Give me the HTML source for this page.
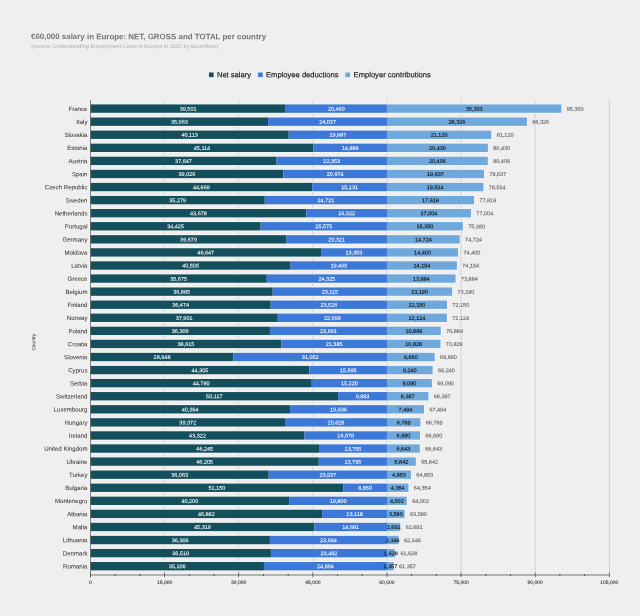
<!DOCTYPE html>
<html><head><meta charset="utf-8"><title>€60,000 salary in Europe</title>
<style>
html,body{margin:0;padding:0;background:#efefef;}
svg{display:block;font-family:"Liberation Sans",Arial,sans-serif;}
.cat{font-size:6.1px;fill:#3a3a3a;text-anchor:end;stroke:#3a3a3a;stroke-width:0.04px;}
.w{font-size:5.5px;fill:#ffffff;text-anchor:middle;stroke:#ffffff;stroke-width:0.07px;}
.k{font-size:5.5px;fill:#111111;text-anchor:middle;stroke:#111111;stroke-width:0.12px;}
.t{font-size:5.5px;fill:#666666;text-anchor:start;stroke:#666666;stroke-width:0.12px;}
.ax{font-size:5.0px;fill:#333333;text-anchor:middle;stroke:#333333;stroke-width:0.1px;}
.lg{font-size:7.6px;fill:#1c1c1c;stroke:#1c1c1c;stroke-width:0.18px;}
</style></head><body>
<svg width="640" height="616" viewBox="0 0 640 616">
<rect x="0" y="0" width="640" height="616" fill="#efefef"/>
<text transform="translate(31.0,39.1) rotate(0.03)" font-size="7.93" font-weight="bold" fill="#757575">€60,000 salary in Europe: NET, GROSS and TOTAL per country</text>
<text transform="translate(31.2,48.0) rotate(0.03)" font-size="5.56" fill="#b0b0b0">(source: Understanding Employment Costs in Europe in 2025 by Boundless)</text>
<rect x="209" y="72.5" width="4.6" height="4.6" fill="#134f5c"/>
<text class="lg" transform="translate(216.9,77.3) rotate(0.03)">Net salary</text>
<rect x="258.1" y="72.5" width="4.6" height="4.6" fill="#3c78d8"/>
<text class="lg" transform="translate(266,77.3) rotate(0.03)">Employee deductions</text>
<rect x="345.4" y="72.5" width="4.6" height="4.6" fill="#6fa8dc"/>
<text class="lg" transform="translate(353.6,77.3) rotate(0.03)">Employer contributions</text>
<text transform="translate(35.2,342.2) rotate(-90.05)" font-size="4.8" fill="#222222" text-anchor="middle">Country</text>

<rect x="164.21" y="100.0" width="0.8" height="475.0" fill="#cccccc"/>
<rect x="238.33" y="100.0" width="0.8" height="475.0" fill="#cccccc"/>
<rect x="312.44" y="100.0" width="0.8" height="475.0" fill="#cccccc"/>
<rect x="386.56" y="100.0" width="0.8" height="475.0" fill="#cccccc"/>
<rect x="460.67" y="100.0" width="0.8" height="475.0" fill="#cccccc"/>
<rect x="534.79" y="100.0" width="0.8" height="475.0" fill="#cccccc"/>
<rect x="608.90" y="100.0" width="0.8" height="475.0" fill="#cccccc"/>
<rect x="90.50" y="103.62" width="471.69" height="9.95" fill="#f6f5f3"/>
<rect x="90.50" y="104.42" width="195.17" height="8.35" fill="#134f5c"/>
<rect x="285.67" y="104.42" width="101.28" height="8.35" fill="#3c78d8"/>
<rect x="386.96" y="104.42" width="174.43" height="8.35" fill="#6fa8dc"/>
<text class="cat" transform="translate(87.50,110.90) rotate(0.05)">France</text>
<text class="w" transform="translate(188.09,110.70) rotate(0.05)">39,501</text>
<text class="w" transform="translate(336.31,110.70) rotate(0.05)">20,499</text>
<text class="k" transform="translate(474.17,110.70) rotate(0.05)">35,303</text>
<rect x="565.99" y="105.70" width="18" height="5.9" fill="#efefef"/>
<text class="t" transform="translate(566.79,110.70) rotate(0.05)">95,303</text>
<rect x="90.50" y="116.70" width="437.21" height="9.95" fill="#f6f5f3"/>
<rect x="90.50" y="117.50" width="177.69" height="8.35" fill="#134f5c"/>
<rect x="268.19" y="117.50" width="118.77" height="8.35" fill="#3c78d8"/>
<rect x="386.96" y="117.50" width="139.96" height="8.35" fill="#6fa8dc"/>
<text class="cat" transform="translate(87.50,123.97) rotate(0.05)">Italy</text>
<text class="w" transform="translate(179.35,123.77) rotate(0.05)">35,963</text>
<text class="w" transform="translate(327.57,123.77) rotate(0.05)">24,037</text>
<text class="k" transform="translate(456.94,123.77) rotate(0.05)">28,326</text>
<rect x="531.51" y="118.77" width="18" height="5.9" fill="#efefef"/>
<text class="t" transform="translate(532.31,123.77) rotate(0.05)">88,326</text>
<rect x="90.50" y="129.77" width="401.61" height="9.95" fill="#f6f5f3"/>
<rect x="90.50" y="130.57" width="198.20" height="8.35" fill="#134f5c"/>
<rect x="288.70" y="130.57" width="98.26" height="8.35" fill="#3c78d8"/>
<rect x="386.96" y="130.57" width="104.35" height="8.35" fill="#6fa8dc"/>
<text class="cat" transform="translate(87.50,137.05) rotate(0.05)">Slovakia</text>
<text class="w" transform="translate(189.60,136.85) rotate(0.05)">40,113</text>
<text class="w" transform="translate(337.83,136.85) rotate(0.05)">19,887</text>
<text class="k" transform="translate(439.13,136.85) rotate(0.05)">21,120</text>
<rect x="495.91" y="131.85" width="18" height="5.9" fill="#efefef"/>
<text class="t" transform="translate(496.71,136.85) rotate(0.05)">81,120</text>
<rect x="90.50" y="142.85" width="398.20" height="9.95" fill="#f6f5f3"/>
<rect x="90.50" y="143.65" width="222.91" height="8.35" fill="#134f5c"/>
<rect x="313.41" y="143.65" width="73.55" height="8.35" fill="#3c78d8"/>
<rect x="386.96" y="143.65" width="100.94" height="8.35" fill="#6fa8dc"/>
<text class="cat" transform="translate(87.50,150.12) rotate(0.05)">Estonia</text>
<text class="w" transform="translate(201.95,149.92) rotate(0.05)">45,114</text>
<text class="w" transform="translate(350.18,149.92) rotate(0.05)">14,886</text>
<text class="k" transform="translate(437.43,149.92) rotate(0.05)">20,430</text>
<rect x="492.50" y="144.92" width="18" height="5.9" fill="#efefef"/>
<text class="t" transform="translate(493.30,149.92) rotate(0.05)">80,430</text>
<rect x="90.50" y="155.92" width="398.08" height="9.95" fill="#f6f5f3"/>
<rect x="90.50" y="156.72" width="186.01" height="8.35" fill="#134f5c"/>
<rect x="276.51" y="156.72" width="110.45" height="8.35" fill="#3c78d8"/>
<rect x="386.96" y="156.72" width="100.83" height="8.35" fill="#6fa8dc"/>
<text class="cat" transform="translate(87.50,163.20) rotate(0.05)">Austria</text>
<text class="w" transform="translate(183.51,163.00) rotate(0.05)">37,647</text>
<text class="w" transform="translate(331.73,163.00) rotate(0.05)">22,353</text>
<text class="k" transform="translate(437.37,163.00) rotate(0.05)">20,406</text>
<rect x="492.38" y="158.00" width="18" height="5.9" fill="#efefef"/>
<text class="t" transform="translate(493.18,163.00) rotate(0.05)">80,406</text>
<rect x="90.50" y="169.00" width="394.28" height="9.95" fill="#f6f5f3"/>
<rect x="90.50" y="169.80" width="192.83" height="8.35" fill="#134f5c"/>
<rect x="283.33" y="169.80" width="103.63" height="8.35" fill="#3c78d8"/>
<rect x="386.96" y="169.80" width="97.03" height="8.35" fill="#6fa8dc"/>
<text class="cat" transform="translate(87.50,176.27) rotate(0.05)">Spain</text>
<text class="w" transform="translate(186.91,176.07) rotate(0.05)">39,026</text>
<text class="w" transform="translate(335.14,176.07) rotate(0.05)">20,974</text>
<text class="k" transform="translate(435.47,176.07) rotate(0.05)">19,637</text>
<rect x="488.58" y="171.07" width="18" height="5.9" fill="#efefef"/>
<text class="t" transform="translate(489.38,176.07) rotate(0.05)">79,637</text>
<rect x="90.50" y="182.07" width="393.67" height="9.95" fill="#f6f5f3"/>
<rect x="90.50" y="182.87" width="221.70" height="8.35" fill="#134f5c"/>
<rect x="312.20" y="182.87" width="74.76" height="8.35" fill="#3c78d8"/>
<rect x="386.96" y="182.87" width="96.42" height="8.35" fill="#6fa8dc"/>
<text class="cat" transform="translate(87.50,189.35) rotate(0.05)">Czech Republic</text>
<text class="w" transform="translate(201.35,189.15) rotate(0.05)">44,869</text>
<text class="w" transform="translate(349.58,189.15) rotate(0.05)">15,131</text>
<text class="k" transform="translate(435.17,189.15) rotate(0.05)">19,514</text>
<rect x="487.97" y="184.15" width="18" height="5.9" fill="#efefef"/>
<text class="t" transform="translate(488.77,189.15) rotate(0.05)">79,514</text>
<rect x="90.50" y="195.14" width="384.31" height="9.95" fill="#f6f5f3"/>
<rect x="90.50" y="195.94" width="174.31" height="8.35" fill="#134f5c"/>
<rect x="264.81" y="195.94" width="122.15" height="8.35" fill="#3c78d8"/>
<rect x="386.96" y="195.94" width="87.05" height="8.35" fill="#6fa8dc"/>
<text class="cat" transform="translate(87.50,202.42) rotate(0.05)">Sweden</text>
<text class="w" transform="translate(177.66,202.22) rotate(0.05)">35,279</text>
<text class="w" transform="translate(325.88,202.22) rotate(0.05)">24,721</text>
<text class="k" transform="translate(430.48,202.22) rotate(0.05)">17,618</text>
<rect x="478.61" y="197.22" width="18" height="5.9" fill="#efefef"/>
<text class="t" transform="translate(479.41,202.22) rotate(0.05)">77,618</text>
<rect x="90.50" y="208.22" width="381.27" height="9.95" fill="#f6f5f3"/>
<rect x="90.50" y="209.02" width="215.81" height="8.35" fill="#134f5c"/>
<rect x="306.31" y="209.02" width="80.65" height="8.35" fill="#3c78d8"/>
<rect x="386.96" y="209.02" width="84.02" height="8.35" fill="#6fa8dc"/>
<text class="cat" transform="translate(87.50,215.49) rotate(0.05)">Netherlands</text>
<text class="w" transform="translate(198.41,215.29) rotate(0.05)">43,678</text>
<text class="w" transform="translate(346.63,215.29) rotate(0.05)">16,322</text>
<text class="k" transform="translate(428.97,215.29) rotate(0.05)">17,004</text>
<rect x="475.57" y="210.29" width="18" height="5.9" fill="#efefef"/>
<text class="t" transform="translate(476.37,215.29) rotate(0.05)">77,004</text>
<rect x="90.50" y="221.29" width="373.10" height="9.95" fill="#f6f5f3"/>
<rect x="90.50" y="222.09" width="170.09" height="8.35" fill="#134f5c"/>
<rect x="260.59" y="222.09" width="126.36" height="8.35" fill="#3c78d8"/>
<rect x="386.96" y="222.09" width="75.84" height="8.35" fill="#6fa8dc"/>
<text class="cat" transform="translate(87.50,228.57) rotate(0.05)">Portugal</text>
<text class="w" transform="translate(175.55,228.37) rotate(0.05)">34,425</text>
<text class="w" transform="translate(323.77,228.37) rotate(0.05)">25,575</text>
<text class="k" transform="translate(424.88,228.37) rotate(0.05)">15,350</text>
<rect x="467.40" y="223.37" width="18" height="5.9" fill="#efefef"/>
<text class="t" transform="translate(468.20,228.37) rotate(0.05)">75,350</text>
<rect x="90.50" y="234.37" width="370.01" height="9.95" fill="#f6f5f3"/>
<rect x="90.50" y="235.17" width="196.05" height="8.35" fill="#134f5c"/>
<rect x="286.55" y="235.17" width="100.41" height="8.35" fill="#3c78d8"/>
<rect x="386.96" y="235.17" width="72.75" height="8.35" fill="#6fa8dc"/>
<text class="cat" transform="translate(87.50,241.64) rotate(0.05)">Germany</text>
<text class="w" transform="translate(188.53,241.44) rotate(0.05)">39,679</text>
<text class="w" transform="translate(336.75,241.44) rotate(0.05)">20,321</text>
<text class="k" transform="translate(423.33,241.44) rotate(0.05)">14,724</text>
<rect x="464.31" y="236.44" width="18" height="5.9" fill="#efefef"/>
<text class="t" transform="translate(465.11,241.44) rotate(0.05)">74,724</text>
<rect x="90.50" y="247.44" width="368.41" height="9.95" fill="#f6f5f3"/>
<rect x="90.50" y="248.24" width="230.48" height="8.35" fill="#134f5c"/>
<rect x="320.98" y="248.24" width="65.98" height="8.35" fill="#3c78d8"/>
<rect x="386.96" y="248.24" width="71.15" height="8.35" fill="#6fa8dc"/>
<text class="cat" transform="translate(87.50,254.72) rotate(0.05)">Moldova</text>
<text class="w" transform="translate(205.74,254.52) rotate(0.05)">46,647</text>
<text class="w" transform="translate(353.97,254.52) rotate(0.05)">13,353</text>
<text class="k" transform="translate(422.53,254.52) rotate(0.05)">14,400</text>
<rect x="462.71" y="249.52" width="18" height="5.9" fill="#efefef"/>
<text class="t" transform="translate(463.51,254.52) rotate(0.05)">74,400</text>
<rect x="90.50" y="260.52" width="367.19" height="9.95" fill="#f6f5f3"/>
<rect x="90.50" y="261.32" width="200.13" height="8.35" fill="#134f5c"/>
<rect x="290.63" y="261.32" width="96.32" height="8.35" fill="#3c78d8"/>
<rect x="386.96" y="261.32" width="69.93" height="8.35" fill="#6fa8dc"/>
<text class="cat" transform="translate(87.50,267.79) rotate(0.05)">Latvia</text>
<text class="w" transform="translate(190.57,267.59) rotate(0.05)">40,505</text>
<text class="w" transform="translate(338.80,267.59) rotate(0.05)">19,495</text>
<text class="k" transform="translate(421.92,267.59) rotate(0.05)">14,154</text>
<rect x="461.49" y="262.59" width="18" height="5.9" fill="#efefef"/>
<text class="t" transform="translate(462.29,267.59) rotate(0.05)">74,154</text>
<rect x="90.50" y="273.59" width="365.86" height="9.95" fill="#f6f5f3"/>
<rect x="90.50" y="274.39" width="176.27" height="8.35" fill="#134f5c"/>
<rect x="266.77" y="274.39" width="120.19" height="8.35" fill="#3c78d8"/>
<rect x="386.96" y="274.39" width="68.60" height="8.35" fill="#6fa8dc"/>
<text class="cat" transform="translate(87.50,280.87) rotate(0.05)">Greece</text>
<text class="w" transform="translate(178.63,280.67) rotate(0.05)">35,675</text>
<text class="w" transform="translate(326.86,280.67) rotate(0.05)">24,325</text>
<text class="k" transform="translate(421.26,280.67) rotate(0.05)">13,884</text>
<rect x="460.16" y="275.67" width="18" height="5.9" fill="#efefef"/>
<text class="t" transform="translate(460.96,280.67) rotate(0.05)">73,884</text>
<rect x="90.50" y="286.66" width="362.43" height="9.95" fill="#f6f5f3"/>
<rect x="90.50" y="287.46" width="182.25" height="8.35" fill="#134f5c"/>
<rect x="272.75" y="287.46" width="114.21" height="8.35" fill="#3c78d8"/>
<rect x="386.96" y="287.46" width="65.17" height="8.35" fill="#6fa8dc"/>
<text class="cat" transform="translate(87.50,293.94) rotate(0.05)">Belgium</text>
<text class="w" transform="translate(181.62,293.74) rotate(0.05)">36,885</text>
<text class="w" transform="translate(329.85,293.74) rotate(0.05)">23,115</text>
<text class="k" transform="translate(419.54,293.74) rotate(0.05)">13,190</text>
<rect x="456.73" y="288.74" width="18" height="5.9" fill="#efefef"/>
<text class="t" transform="translate(457.53,293.74) rotate(0.05)">73,190</text>
<rect x="90.50" y="299.74" width="357.29" height="9.95" fill="#f6f5f3"/>
<rect x="90.50" y="300.54" width="180.22" height="8.35" fill="#134f5c"/>
<rect x="270.72" y="300.54" width="116.24" height="8.35" fill="#3c78d8"/>
<rect x="386.96" y="300.54" width="60.03" height="8.35" fill="#6fa8dc"/>
<text class="cat" transform="translate(87.50,307.01) rotate(0.05)">Finland</text>
<text class="w" transform="translate(180.61,306.81) rotate(0.05)">36,474</text>
<text class="w" transform="translate(328.84,306.81) rotate(0.05)">23,526</text>
<text class="k" transform="translate(416.97,306.81) rotate(0.05)">12,150</text>
<rect x="451.59" y="301.81" width="18" height="5.9" fill="#efefef"/>
<text class="t" transform="translate(452.39,306.81) rotate(0.05)">72,150</text>
<rect x="90.50" y="312.81" width="357.16" height="9.95" fill="#f6f5f3"/>
<rect x="90.50" y="313.61" width="187.27" height="8.35" fill="#134f5c"/>
<rect x="277.77" y="313.61" width="109.19" height="8.35" fill="#3c78d8"/>
<rect x="386.96" y="313.61" width="59.90" height="8.35" fill="#6fa8dc"/>
<text class="cat" transform="translate(87.50,320.09) rotate(0.05)">Norway</text>
<text class="w" transform="translate(184.13,319.89) rotate(0.05)">37,901</text>
<text class="w" transform="translate(332.36,319.89) rotate(0.05)">22,099</text>
<text class="k" transform="translate(416.91,319.89) rotate(0.05)">12,124</text>
<rect x="451.46" y="314.89" width="18" height="5.9" fill="#efefef"/>
<text class="t" transform="translate(452.26,319.89) rotate(0.05)">72,124</text>
<rect x="90.50" y="325.89" width="351.06" height="9.95" fill="#f6f5f3"/>
<rect x="90.50" y="326.69" width="179.40" height="8.35" fill="#134f5c"/>
<rect x="269.90" y="326.69" width="117.06" height="8.35" fill="#3c78d8"/>
<rect x="386.96" y="326.69" width="53.80" height="8.35" fill="#6fa8dc"/>
<text class="cat" transform="translate(87.50,333.16) rotate(0.05)">Poland</text>
<text class="w" transform="translate(180.20,332.96) rotate(0.05)">36,309</text>
<text class="w" transform="translate(328.43,332.96) rotate(0.05)">23,691</text>
<text class="k" transform="translate(413.86,332.96) rotate(0.05)">10,889</text>
<rect x="445.36" y="327.96" width="18" height="5.9" fill="#efefef"/>
<text class="t" transform="translate(446.16,332.96) rotate(0.05)">70,889</text>
<rect x="90.50" y="338.96" width="350.76" height="9.95" fill="#f6f5f3"/>
<rect x="90.50" y="339.76" width="190.79" height="8.35" fill="#134f5c"/>
<rect x="281.29" y="339.76" width="105.66" height="8.35" fill="#3c78d8"/>
<rect x="386.96" y="339.76" width="53.50" height="8.35" fill="#6fa8dc"/>
<text class="cat" transform="translate(87.50,346.24) rotate(0.05)">Croatia</text>
<text class="w" transform="translate(185.90,346.04) rotate(0.05)">38,615</text>
<text class="w" transform="translate(334.13,346.04) rotate(0.05)">21,385</text>
<text class="k" transform="translate(413.71,346.04) rotate(0.05)">10,828</text>
<rect x="445.06" y="341.04" width="18" height="5.9" fill="#efefef"/>
<text class="t" transform="translate(445.86,346.04) rotate(0.05)">70,828</text>
<rect x="90.50" y="352.04" width="344.99" height="9.95" fill="#f6f5f3"/>
<rect x="90.50" y="352.84" width="143.03" height="8.35" fill="#134f5c"/>
<rect x="233.53" y="352.84" width="153.43" height="8.35" fill="#3c78d8"/>
<rect x="386.96" y="352.84" width="47.73" height="8.35" fill="#6fa8dc"/>
<text class="cat" transform="translate(87.50,359.31) rotate(0.05)">Slovenia</text>
<text class="w" transform="translate(162.02,359.11) rotate(0.05)">28,948</text>
<text class="w" transform="translate(310.24,359.11) rotate(0.05)">31,052</text>
<text class="k" transform="translate(410.82,359.11) rotate(0.05)">9,660</text>
<rect x="439.29" y="354.11" width="18" height="5.9" fill="#efefef"/>
<text class="t" transform="translate(440.09,359.11) rotate(0.05)">69,660</text>
<rect x="90.50" y="365.11" width="342.91" height="9.95" fill="#f6f5f3"/>
<rect x="90.50" y="365.91" width="218.91" height="8.35" fill="#134f5c"/>
<rect x="309.41" y="365.91" width="77.55" height="8.35" fill="#3c78d8"/>
<rect x="386.96" y="365.91" width="45.65" height="8.35" fill="#6fa8dc"/>
<text class="cat" transform="translate(87.50,372.39) rotate(0.05)">Cyprus</text>
<text class="w" transform="translate(199.95,372.19) rotate(0.05)">44,305</text>
<text class="w" transform="translate(348.18,372.19) rotate(0.05)">15,695</text>
<text class="k" transform="translate(409.78,372.19) rotate(0.05)">9,240</text>
<rect x="437.21" y="367.19" width="18" height="5.9" fill="#efefef"/>
<text class="t" transform="translate(438.01,372.19) rotate(0.05)">69,240</text>
<rect x="90.50" y="378.18" width="342.17" height="9.95" fill="#f6f5f3"/>
<rect x="90.50" y="378.98" width="221.26" height="8.35" fill="#134f5c"/>
<rect x="311.76" y="378.98" width="75.20" height="8.35" fill="#3c78d8"/>
<rect x="386.96" y="378.98" width="44.91" height="8.35" fill="#6fa8dc"/>
<text class="cat" transform="translate(87.50,385.46) rotate(0.05)">Serbia</text>
<text class="w" transform="translate(201.13,385.26) rotate(0.05)">44,780</text>
<text class="w" transform="translate(349.36,385.26) rotate(0.05)">15,220</text>
<text class="k" transform="translate(409.41,385.26) rotate(0.05)">9,090</text>
<rect x="436.47" y="380.26" width="18" height="5.9" fill="#efefef"/>
<text class="t" transform="translate(437.27,385.26) rotate(0.05)">69,090</text>
<rect x="90.50" y="391.26" width="338.70" height="9.95" fill="#f6f5f3"/>
<rect x="90.50" y="392.06" width="247.63" height="8.35" fill="#134f5c"/>
<rect x="338.13" y="392.06" width="48.83" height="8.35" fill="#3c78d8"/>
<rect x="386.96" y="392.06" width="41.44" height="8.35" fill="#6fa8dc"/>
<text class="cat" transform="translate(87.50,398.53) rotate(0.05)">Switzerland</text>
<text class="w" transform="translate(214.31,398.33) rotate(0.05)">50,117</text>
<text class="w" transform="translate(362.54,398.33) rotate(0.05)">9,883</text>
<text class="k" transform="translate(407.68,398.33) rotate(0.05)">8,387</text>
<rect x="433.00" y="393.33" width="18" height="5.9" fill="#efefef"/>
<text class="t" transform="translate(433.80,398.33) rotate(0.05)">68,387</text>
<rect x="90.50" y="404.33" width="334.28" height="9.95" fill="#f6f5f3"/>
<rect x="90.50" y="405.13" width="199.44" height="8.35" fill="#134f5c"/>
<rect x="289.94" y="405.13" width="97.02" height="8.35" fill="#3c78d8"/>
<rect x="386.96" y="405.13" width="37.03" height="8.35" fill="#6fa8dc"/>
<text class="cat" transform="translate(87.50,411.61) rotate(0.05)">Luxembourg</text>
<text class="w" transform="translate(190.22,411.41) rotate(0.05)">40,364</text>
<text class="w" transform="translate(338.45,411.41) rotate(0.05)">19,636</text>
<text class="k" transform="translate(405.47,411.41) rotate(0.05)">7,494</text>
<rect x="428.58" y="406.41" width="18" height="5.9" fill="#efefef"/>
<text class="t" transform="translate(429.38,411.41) rotate(0.05)">67,494</text>
<rect x="90.50" y="417.41" width="330.70" height="9.95" fill="#f6f5f3"/>
<rect x="90.50" y="418.21" width="194.54" height="8.35" fill="#134f5c"/>
<rect x="285.04" y="418.21" width="101.92" height="8.35" fill="#3c78d8"/>
<rect x="386.96" y="418.21" width="33.45" height="8.35" fill="#6fa8dc"/>
<text class="cat" transform="translate(87.50,424.68) rotate(0.05)">Hungary</text>
<text class="w" transform="translate(187.77,424.48) rotate(0.05)">39,372</text>
<text class="w" transform="translate(336.00,424.48) rotate(0.05)">20,628</text>
<text class="k" transform="translate(403.68,424.48) rotate(0.05)">6,769</text>
<rect x="425.00" y="419.48" width="18" height="5.9" fill="#efefef"/>
<text class="t" transform="translate(425.80,424.48) rotate(0.05)">66,769</text>
<rect x="90.50" y="430.48" width="330.31" height="9.95" fill="#f6f5f3"/>
<rect x="90.50" y="431.28" width="214.05" height="8.35" fill="#134f5c"/>
<rect x="304.55" y="431.28" width="82.41" height="8.35" fill="#3c78d8"/>
<rect x="386.96" y="431.28" width="33.05" height="8.35" fill="#6fa8dc"/>
<text class="cat" transform="translate(87.50,437.76) rotate(0.05)">Ireland</text>
<text class="w" transform="translate(197.53,437.56) rotate(0.05)">43,322</text>
<text class="w" transform="translate(345.75,437.56) rotate(0.05)">16,678</text>
<text class="k" transform="translate(403.48,437.56) rotate(0.05)">6,690</text>
<rect x="424.61" y="432.56" width="18" height="5.9" fill="#efefef"/>
<text class="t" transform="translate(425.41,437.56) rotate(0.05)">66,690</text>
<rect x="90.50" y="443.56" width="330.08" height="9.95" fill="#f6f5f3"/>
<rect x="90.50" y="444.36" width="228.49" height="8.35" fill="#134f5c"/>
<rect x="318.99" y="444.36" width="67.96" height="8.35" fill="#3c78d8"/>
<rect x="386.96" y="444.36" width="32.82" height="8.35" fill="#6fa8dc"/>
<text class="cat" transform="translate(87.50,450.83) rotate(0.05)">United Kingdom</text>
<text class="w" transform="translate(204.75,450.63) rotate(0.05)">46,245</text>
<text class="w" transform="translate(352.98,450.63) rotate(0.05)">13,755</text>
<text class="k" transform="translate(403.37,450.63) rotate(0.05)">6,643</text>
<rect x="424.38" y="445.63" width="18" height="5.9" fill="#efefef"/>
<text class="t" transform="translate(425.18,450.63) rotate(0.05)">66,643</text>
<rect x="90.50" y="456.63" width="326.12" height="9.95" fill="#f6f5f3"/>
<rect x="90.50" y="457.43" width="228.30" height="8.35" fill="#134f5c"/>
<rect x="318.80" y="457.43" width="68.16" height="8.35" fill="#3c78d8"/>
<rect x="386.96" y="457.43" width="28.87" height="8.35" fill="#6fa8dc"/>
<text class="cat" transform="translate(87.50,463.91) rotate(0.05)">Ukraine</text>
<text class="w" transform="translate(204.65,463.71) rotate(0.05)">46,205</text>
<text class="w" transform="translate(352.88,463.71) rotate(0.05)">13,795</text>
<text class="k" transform="translate(401.39,463.71) rotate(0.05)">5,842</text>
<rect x="420.42" y="458.71" width="18" height="5.9" fill="#efefef"/>
<text class="t" transform="translate(421.22,463.71) rotate(0.05)">65,842</text>
<rect x="90.50" y="469.71" width="321.24" height="9.95" fill="#f6f5f3"/>
<rect x="90.50" y="470.51" width="178.19" height="8.35" fill="#134f5c"/>
<rect x="268.69" y="470.51" width="118.27" height="8.35" fill="#3c78d8"/>
<rect x="386.96" y="470.51" width="23.98" height="8.35" fill="#6fa8dc"/>
<text class="cat" transform="translate(87.50,476.98) rotate(0.05)">Turkey</text>
<text class="w" transform="translate(179.59,476.78) rotate(0.05)">36,063</text>
<text class="w" transform="translate(327.82,476.78) rotate(0.05)">23,937</text>
<text class="k" transform="translate(398.95,476.78) rotate(0.05)">4,853</text>
<rect x="415.54" y="471.78" width="18" height="5.9" fill="#efefef"/>
<text class="t" transform="translate(416.34,476.78) rotate(0.05)">64,853</text>
<rect x="90.50" y="482.78" width="318.77" height="9.95" fill="#f6f5f3"/>
<rect x="90.50" y="483.58" width="252.73" height="8.35" fill="#134f5c"/>
<rect x="343.23" y="483.58" width="43.73" height="8.35" fill="#3c78d8"/>
<rect x="386.96" y="483.58" width="21.51" height="8.35" fill="#6fa8dc"/>
<text class="cat" transform="translate(87.50,490.05) rotate(0.05)">Bulgaria</text>
<text class="w" transform="translate(216.86,489.85) rotate(0.05)">51,150</text>
<text class="w" transform="translate(365.09,489.85) rotate(0.05)">8,850</text>
<text class="k" transform="translate(397.71,489.85) rotate(0.05)">4,354</text>
<rect x="413.07" y="484.85" width="18" height="5.9" fill="#efefef"/>
<text class="t" transform="translate(413.87,489.85) rotate(0.05)">64,354</text>
<rect x="90.50" y="495.85" width="317.03" height="9.95" fill="#f6f5f3"/>
<rect x="90.50" y="496.65" width="198.63" height="8.35" fill="#134f5c"/>
<rect x="289.13" y="496.65" width="97.83" height="8.35" fill="#3c78d8"/>
<rect x="386.96" y="496.65" width="19.77" height="8.35" fill="#6fa8dc"/>
<text class="cat" transform="translate(87.50,503.13) rotate(0.05)">Montenegro</text>
<text class="w" transform="translate(189.81,502.93) rotate(0.05)">40,200</text>
<text class="w" transform="translate(338.04,502.93) rotate(0.05)">19,800</text>
<text class="k" transform="translate(396.84,502.93) rotate(0.05)">4,002</text>
<rect x="411.33" y="497.93" width="18" height="5.9" fill="#efefef"/>
<text class="t" transform="translate(412.13,502.93) rotate(0.05)">64,002</text>
<rect x="90.50" y="508.93" width="314.95" height="9.95" fill="#f6f5f3"/>
<rect x="90.50" y="509.73" width="231.64" height="8.35" fill="#134f5c"/>
<rect x="322.14" y="509.73" width="64.82" height="8.35" fill="#3c78d8"/>
<rect x="386.96" y="509.73" width="17.69" height="8.35" fill="#6fa8dc"/>
<text class="cat" transform="translate(87.50,516.20) rotate(0.05)">Albania</text>
<text class="w" transform="translate(206.32,516.00) rotate(0.05)">46,882</text>
<text class="w" transform="translate(354.55,516.00) rotate(0.05)">13,118</text>
<text class="k" transform="translate(395.80,516.00) rotate(0.05)">3,580</text>
<rect x="409.25" y="511.00" width="18" height="5.9" fill="#efefef"/>
<text class="t" transform="translate(410.05,516.00) rotate(0.05)">63,580</text>
<rect x="90.50" y="522.00" width="310.55" height="9.95" fill="#f6f5f3"/>
<rect x="90.50" y="522.80" width="223.92" height="8.35" fill="#134f5c"/>
<rect x="314.42" y="522.80" width="72.54" height="8.35" fill="#3c78d8"/>
<rect x="386.96" y="522.80" width="13.30" height="8.35" fill="#6fa8dc"/>
<text class="cat" transform="translate(87.50,529.28) rotate(0.05)">Malta</text>
<text class="w" transform="translate(202.46,529.08) rotate(0.05)">45,319</text>
<text class="w" transform="translate(350.69,529.08) rotate(0.05)">14,681</text>
<text class="k" transform="translate(393.61,529.08) rotate(0.05)">2,691</text>
<rect x="404.85" y="524.08" width="18" height="5.9" fill="#efefef"/>
<text class="t" transform="translate(405.65,529.08) rotate(0.05)">62,691</text>
<rect x="90.50" y="535.08" width="308.85" height="9.95" fill="#f6f5f3"/>
<rect x="90.50" y="535.88" width="179.39" height="8.35" fill="#134f5c"/>
<rect x="269.89" y="535.88" width="117.07" height="8.35" fill="#3c78d8"/>
<rect x="386.96" y="535.88" width="11.59" height="8.35" fill="#6fa8dc"/>
<text class="cat" transform="translate(87.50,542.35) rotate(0.05)">Lithuania</text>
<text class="w" transform="translate(180.19,542.15) rotate(0.05)">36,306</text>
<text class="w" transform="translate(328.42,542.15) rotate(0.05)">23,694</text>
<text class="k" transform="translate(392.75,542.15) rotate(0.05)">2,346</text>
<rect x="403.15" y="537.15" width="18" height="5.9" fill="#efefef"/>
<text class="t" transform="translate(403.95,542.15) rotate(0.05)">62,346</text>
<rect x="90.50" y="548.15" width="305.30" height="9.95" fill="#f6f5f3"/>
<rect x="90.50" y="548.95" width="180.43" height="8.35" fill="#134f5c"/>
<rect x="270.93" y="548.95" width="116.02" height="8.35" fill="#3c78d8"/>
<rect x="386.96" y="548.95" width="8.04" height="8.35" fill="#6fa8dc"/>
<text class="cat" transform="translate(87.50,555.43) rotate(0.05)">Denmark</text>
<text class="w" transform="translate(180.72,555.23) rotate(0.05)">36,518</text>
<text class="w" transform="translate(328.95,555.23) rotate(0.05)">23,482</text>
<text class="k" transform="translate(390.98,555.23) rotate(0.05)">1,628</text>
<rect x="399.60" y="550.23" width="18" height="5.9" fill="#efefef"/>
<text class="t" transform="translate(400.40,555.23) rotate(0.05)">61,628</text>
<rect x="90.50" y="561.23" width="303.96" height="9.95" fill="#f6f5f3"/>
<rect x="90.50" y="562.03" width="173.46" height="8.35" fill="#134f5c"/>
<rect x="263.96" y="562.03" width="123.00" height="8.35" fill="#3c78d8"/>
<rect x="386.96" y="562.03" width="6.70" height="8.35" fill="#6fa8dc"/>
<text class="cat" transform="translate(87.50,568.50) rotate(0.05)">Romania</text>
<text class="w" transform="translate(177.23,568.30) rotate(0.05)">35,106</text>
<text class="w" transform="translate(325.46,568.30) rotate(0.05)">24,894</text>
<text class="k" transform="translate(390.31,568.30) rotate(0.05)">1,357</text>
<rect x="398.26" y="563.30" width="18" height="5.9" fill="#efefef"/>
<text class="t" transform="translate(399.06,568.30) rotate(0.05)">61,357</text>
<rect x="90.15" y="100.0" width="0.7" height="477.5" fill="#555555"/>
<rect x="90.50" y="574.3" width="518.80" height="1.4" fill="#999999"/>
<rect x="90.15" y="572.6" width="0.7" height="4.6" fill="#444444"/>
<text class="ax" transform="translate(90.50,583.95) rotate(0.05)">0</text>
<rect x="114.70" y="574.0" width="1" height="2" fill="#555555"/>
<rect x="139.41" y="574.0" width="1" height="2" fill="#555555"/>
<rect x="164.26" y="572.6" width="0.7" height="4.6" fill="#444444"/>
<text class="ax" transform="translate(164.61,583.95) rotate(0.05)">15,000</text>
<rect x="188.82" y="574.0" width="1" height="2" fill="#555555"/>
<rect x="213.52" y="574.0" width="1" height="2" fill="#555555"/>
<rect x="238.38" y="572.6" width="0.7" height="4.6" fill="#444444"/>
<text class="ax" transform="translate(238.73,583.95) rotate(0.05)">30,000</text>
<rect x="262.93" y="574.0" width="1" height="2" fill="#555555"/>
<rect x="287.64" y="574.0" width="1" height="2" fill="#555555"/>
<rect x="312.49" y="572.6" width="0.7" height="4.6" fill="#444444"/>
<text class="ax" transform="translate(312.84,583.95) rotate(0.05)">45,000</text>
<rect x="337.05" y="574.0" width="1" height="2" fill="#555555"/>
<rect x="361.75" y="574.0" width="1" height="2" fill="#555555"/>
<rect x="386.61" y="572.6" width="0.7" height="4.6" fill="#444444"/>
<text class="ax" transform="translate(386.96,583.95) rotate(0.05)">60,000</text>
<rect x="411.16" y="574.0" width="1" height="2" fill="#555555"/>
<rect x="435.87" y="574.0" width="1" height="2" fill="#555555"/>
<rect x="460.72" y="572.6" width="0.7" height="4.6" fill="#444444"/>
<text class="ax" transform="translate(461.07,583.95) rotate(0.05)">75,000</text>
<rect x="485.28" y="574.0" width="1" height="2" fill="#555555"/>
<rect x="509.98" y="574.0" width="1" height="2" fill="#555555"/>
<rect x="534.84" y="572.6" width="0.7" height="4.6" fill="#444444"/>
<text class="ax" transform="translate(535.19,583.95) rotate(0.05)">90,000</text>
<rect x="559.39" y="574.0" width="1" height="2" fill="#555555"/>
<rect x="584.10" y="574.0" width="1" height="2" fill="#555555"/>
<rect x="608.95" y="572.6" width="0.7" height="4.6" fill="#444444"/>
<text class="ax" transform="translate(609.30,583.95) rotate(0.05)">105,000</text>
</svg></body></html>
